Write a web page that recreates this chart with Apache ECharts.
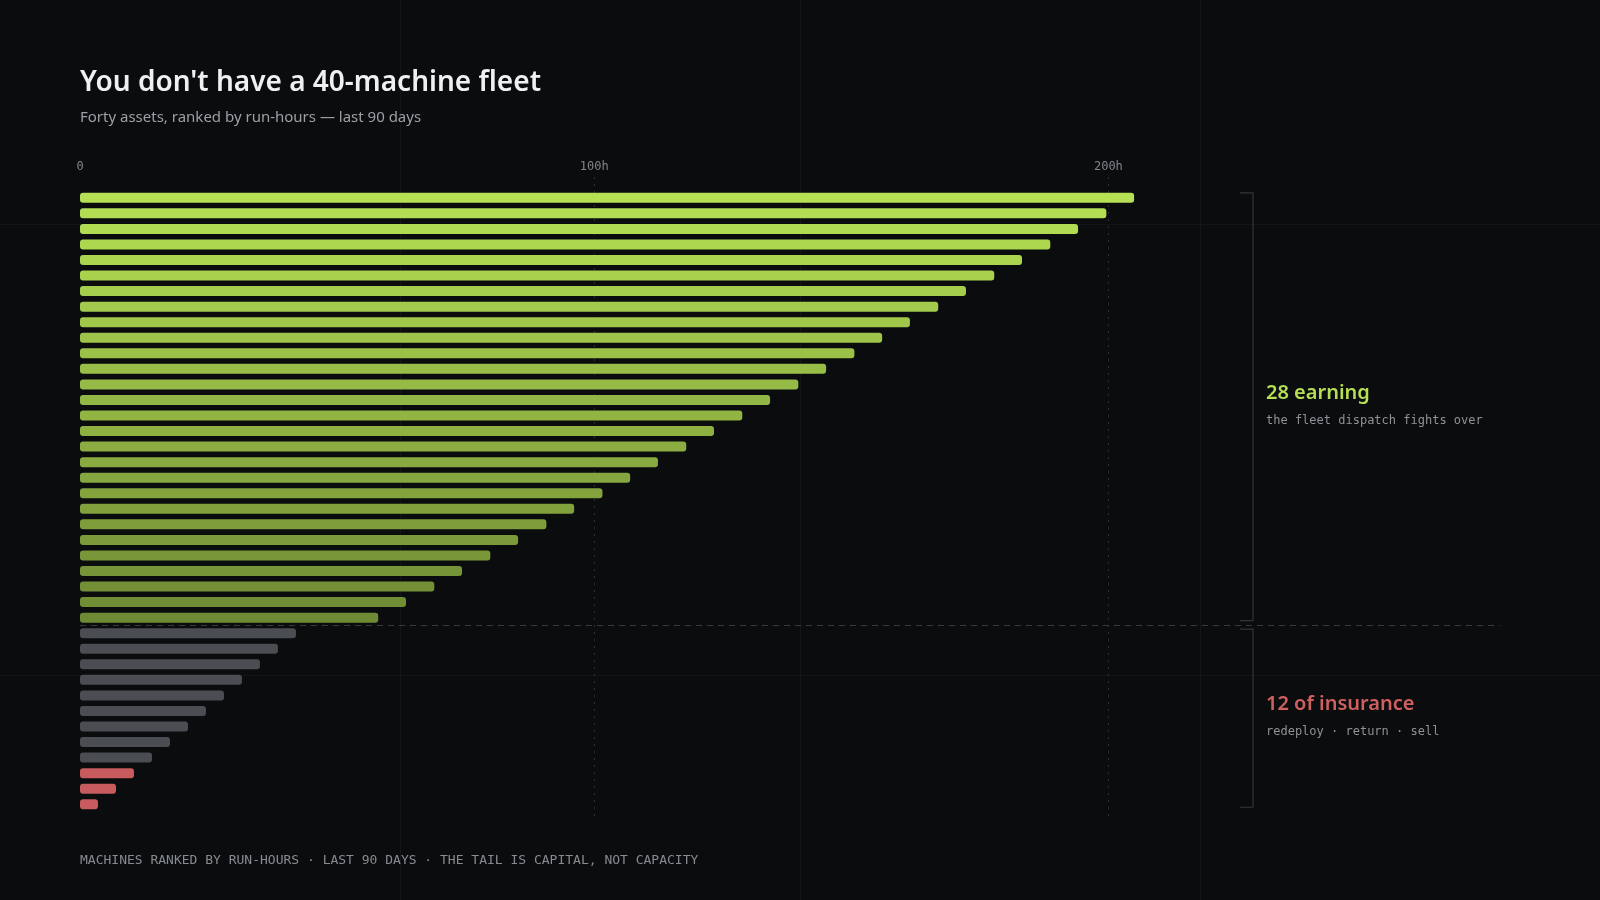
<!DOCTYPE html>
<html><head><meta charset="utf-8">
<script src="https://cdn.jsdelivr.net/npm/echarts@6/dist/echarts.min.js"></script>
<style>html,body{margin:0;padding:0;background:#0a0c0e;}#c{width:1600px;height:900px;}</style>
</head><body><div id="c"></div>
<script>
// ---- data ----
const machines = ['M01','M02','M03','M04','M05','M06','M07','M08','M09','M10',
  'M11','M12','M13','M14','M15','M16','M17','M18','M19','M20',
  'M21','M22','M23','M24','M25','M26','M27','M28','M29','M30',
  'M31','M32','M33','M34','M35','M36','M37','M38','M39','M40'];
const runHours = [205, 199.6, 194.1, 188.7, 183.2, 177.8, 172.3, 166.9, 161.4, 156.0,
  150.6, 145.1, 139.7, 134.2, 128.8, 123.3, 117.9, 112.4, 107.0, 101.6,
  96.1, 90.7, 85.2, 79.8, 74.3, 68.9, 63.4, 58.0,
  42.0, 38.5, 35.0, 31.5, 28.0, 24.5, 21.0, 17.5, 14.0,
  10.5, 7.0, 3.5];
const tiers = ['earning','earning','earning','earning','earning','earning','earning','earning','earning','earning',
  'earning','earning','earning','earning','earning','earning','earning','earning','earning','earning',
  'earning','earning','earning','earning','earning','earning','earning','earning',
  'idle','idle','idle','idle','idle','idle','idle','idle','idle',
  'dead','dead','dead'];
const tickLabels = {0: '0', 100: '100h', 200: '200h'};
const titleText = "You don't have a 40-machine fleet";
const subtitleText = 'Forty assets, ranked by run-hours — last 90 days';
const footerText = 'MACHINES RANKED BY RUN-HOURS · LAST 90 DAYS · THE TAIL IS CAPITAL, NOT CAPACITY';
const earningLabel = '28 earning', earningNote = 'the fleet dispatch fights over';
const insuranceLabel = '12 of insurance', insuranceNote = 'redeploy · return · sell';

// ---- styling ----
const SANS = '"Noto Sans", "Open Sans", sans-serif';
const MONO = '"DejaVu Sans Mono", "Liberation Mono", monospace';
const nEarn = tiers.filter(t => t === 'earning').length;
const c0 = [182, 225, 84], c1 = [110, 138, 52];
function barColor(p) {
  const t = tiers[p.dataIndex];
  if (t === 'idle') return '#4a4d52';
  if (t === 'dead') return '#c75b5d';
  const k = p.dataIndex / (nEarn - 1);
  const c = c0.map((v, i) => Math.round(v + (c1[i] - v) * k));
  return 'rgb(' + c.join(',') + ')';
}

const chart = echarts.init(document.getElementById('c'), null, {renderer: 'canvas'});
const GL = 80, GW = 1285.5, XMAX = 250;
chart.setOption({
  backgroundColor: '#0a0c0e',
  animation: false,
  grid: [
    {left: GL, width: GW, top: 190, height: 622},
    {left: GL, width: GW, top: 175, bottom: 84}
  ],
  xAxis: [
    {gridIndex: 0, type: 'value', min: 0, max: XMAX, interval: 100, show: false},
    {gridIndex: 1, type: 'value', min: 0, max: XMAX, interval: 100, position: 'top',
      axisLine: {show: false}, axisTick: {show: false}, splitLine: {show: false},
      axisLabel: {show: true, margin: 2, color: '#80858a', fontFamily: MONO, fontSize: 12,
        formatter: v => (tickLabels[v] !== undefined ? tickLabels[v] : '')}}
  ],
  yAxis: [
    {gridIndex: 0, type: 'category', data: machines, inverse: true, show: false},
    {gridIndex: 1, type: 'value', min: 0, max: 1, show: false}
  ],
  series: [
    {type: 'bar', xAxisIndex: 0, yAxisIndex: 0, data: runHours, barWidth: 10, z: 3,
      itemStyle: {color: barColor, borderRadius: 3}},
    {type: 'scatter', xAxisIndex: 1, yAxisIndex: 1, data: [], z: 1, silent: true,
      markLine: {silent: true, z: 1, symbol: 'none', label: {show: false},
        lineStyle: {color: '#2c3035', type: [2, 5], width: 1},
        data: [{xAxis: 100}, {xAxis: 200}]}}
  ]
});

// annotation geometry derived from chart scales
const yc = i => chart.convertToPixel({yAxisIndex: 0}, machines[i]);
const half = 5;
const earnTop = yc(0) - half, earnBot = yc(nEarn - 1) + half - 2;
const insTop = yc(nEarn) - half + 1, insBot = yc(machines.length - 1) + half - 2;
const sepY = (yc(nEarn - 1) + yc(nEarn)) / 2;
const x0 = chart.convertToPixel({xAxisIndex: 0}, 0);
const BX = 1253, BT = 1240;
const bracketStyle = {stroke: '#2f3838', lineWidth: 1.2, fill: null};
const faint = {stroke: '#131619', lineWidth: 1};

chart.setOption({
  graphic: [
    // faint background frame lines
    {type: 'line', z: 0, silent: true, shape: {x1: 400.5, y1: 0, x2: 400.5, y2: 900}, style: faint},
    {type: 'line', z: 0, silent: true, shape: {x1: 800.5, y1: 0, x2: 800.5, y2: 900}, style: faint},
    {type: 'line', z: 0, silent: true, shape: {x1: 1200.5, y1: 0, x2: 1200.5, y2: 900}, style: faint},
    {type: 'line', z: 0, silent: true, shape: {x1: 0, y1: 224.5, x2: 1600, y2: 224.5}, style: faint},
    {type: 'line', z: 0, silent: true, shape: {x1: 0, y1: 675.5, x2: 1600, y2: 675.5}, style: faint},
    // titles
    {type: 'text', x: 80, y: 83, z: 10, style: {text: titleText, font: '600 28px ' + SANS, fill: '#eef0f2', verticalAlign: 'middle'}},
    {type: 'text', x: 80, y: 118, z: 10, style: {text: subtitleText, font: '400 15px ' + SANS, fill: '#9aa0a6', verticalAlign: 'middle'}},
    {type: 'text', x: 80, y: 861, z: 10, style: {text: footerText, font: '400 13px ' + MONO, fill: '#878c92', verticalAlign: 'middle'}},
    // separator
    {type: 'line', z: 4, silent: true, shape: {x1: x0, y1: Math.round(sepY) + 0.5, x2: 1500, y2: Math.round(sepY) + 0.5},
      style: {stroke: '#353a3f', lineWidth: 1, lineDash: [6, 5]}},
    // brackets
    {type: 'polyline', z: 4, shape: {points: [[BT, earnTop], [BX, earnTop], [BX, earnBot], [BT, earnBot]]}, style: bracketStyle},
    {type: 'polyline', z: 4, shape: {points: [[BT, insTop], [BX, insTop], [BX, insBot], [BT, insBot]]}, style: bracketStyle},
    // annotations
    {type: 'text', x: 1266, y: 393, z: 10, style: {text: earningLabel, font: '600 20px ' + SANS, fill: '#b5df55', verticalAlign: 'middle'}},
    {type: 'text', x: 1266, y: 421, z: 10, style: {text: earningNote, font: '400 12px ' + MONO, fill: '#8e9398', verticalAlign: 'middle'}},
    {type: 'text', x: 1266, y: 704, z: 10, style: {text: insuranceLabel, font: '600 20px ' + SANS, fill: '#d0605f', verticalAlign: 'middle'}},
    {type: 'text', x: 1266, y: 732, z: 10, style: {text: insuranceNote, font: '400 12px ' + MONO, fill: '#8e9398', verticalAlign: 'middle'}}
  ]
});
</script>
</body></html>
